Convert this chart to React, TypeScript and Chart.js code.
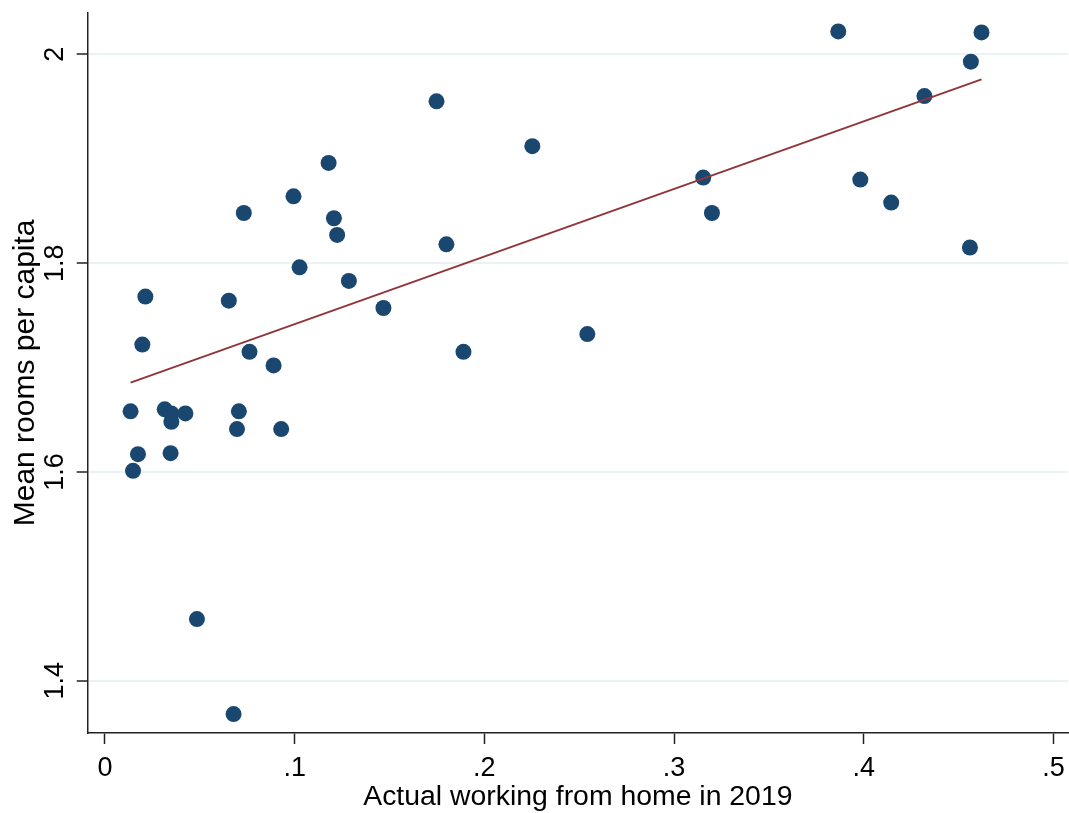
import React, { useEffect, useRef } from 'react';
import { Chart, registerables } from 'chart.js';

Chart.register(...registerables);

// Share actually working from home in 2019 (x) and mean rooms per capita (y)
const wfh2019 = [
  0.0135, 0.0148, 0.0174, 0.0197, 0.0213, 0.0315, 0.035, 0.0424, 0.035, 0.0346,
  0.0485, 0.0653, 0.0678, 0.0696, 0.0706, 0.0732, 0.0762, 0.0889, 0.0929, 0.0994,
  0.1026, 0.1179, 0.1207, 0.1224, 0.1286, 0.1468, 0.1748, 0.18, 0.189, 0.2253,
  0.2543, 0.3154, 0.32, 0.3866, 0.3982, 0.4145, 0.432, 0.4565, 0.456, 0.4621,
];
const roomsPerCapita = [
  1.658, 1.601, 1.617, 1.722, 1.768, 1.66, 1.656, 1.656, 1.648, 1.618,
  1.459, 1.764, 1.368, 1.641, 1.658, 1.848, 1.715, 1.702, 1.641, 1.864,
  1.796, 1.896, 1.843, 1.827, 1.783, 1.757, 1.955, 1.818, 1.715, 1.912,
  1.732, 1.882, 1.848, 2.022, 1.88, 1.858, 1.96, 1.993, 1.815, 2.021,
];

// Fitted line (as drawn in the figure): values at the smallest and largest x
const fitX = [0.0135, 0.4621];
const fitY = [1.6855, 1.976];

const xTickValues = [0, 0.1, 0.2, 0.3, 0.4, 0.5];
const xTickLabels = ['0', '.1', '.2', '.3', '.4', '.5'];
const yTickValues = [1.4, 1.6, 1.8, 2];
const yTickLabels = ['1.4', '1.6', '1.8', '2'];
const xAxisRange = [-0.0091, 0.5077];
const yAxisRange = [1.3499, 2.0399];
const xTitle = 'Actual working from home in 2019';
const yTitle = 'Mean rooms per capita';

const FONT = "'Liberation Sans', Arial, Helvetica, sans-serif";
const NAVY = '#1a476f';
const MAROON = '#90353b';
const AXIS = '#222222';
const GRID = '#eaf2f3';

function labelFor(values: number[], labels: string[], v: number) {
  const i = values.findIndex((t) => Math.abs(t - v) < 1e-9);
  return i >= 0 ? labels[i] : '';
}

export default function App() {
  const ref = useRef<HTMLCanvasElement>(null);

  useEffect(() => {
    if (!ref.current) return;
    const points = wfh2019.map((x, i) => ({ x, y: roomsPerCapita[i] }));
    const fitPoints = fitX.map((x, i) => ({ x, y: fitY[i] }));

    const chart = new Chart(ref.current, {
      type: 'scatter',
      data: {
        datasets: [
          {
            label: yTitle,
            data: points,
            backgroundColor: NAVY,
            borderColor: NAVY,
            pointRadius: 8,
            pointBorderWidth: 0,
            order: 1,
          },
          {
            label: 'Fitted values',
            type: 'line',
            data: fitPoints,
            borderColor: MAROON,
            borderWidth: 2,
            pointRadius: 0,
            fill: false,
            order: 0,
          } as any,
        ],
      },
      options: {
        responsive: false,
        animation: false,
        events: [],
        layout: { padding: { top: 12.7, right: 0, bottom: 0, left: 0 } },
        plugins: {
          legend: { display: false },
          tooltip: { enabled: false },
        },
        scales: {
          x: {
            type: 'linear',
            position: 'bottom',
            min: xAxisRange[0],
            max: xAxisRange[1],
            afterBuildTicks: (s: any) => {
              s.ticks = xTickValues.map((v) => ({ value: v }));
            },
            afterFit: (s: any) => {
              s.height = 80;
              s.paddingLeft = 0;
              s.paddingRight = 0;
            },
            ticks: {
              autoSkip: false,
              maxRotation: 0,
              minRotation: 0,
              padding: 8,
              color: '#000',
              font: { family: FONT, size: 27 },
              callback: (v: any) => labelFor(xTickValues, xTickLabels, Number(v)),
            },
            grid: {
              drawOnChartArea: false,
              drawTicks: true,
              tickLength: 11,
              tickColor: AXIS,
              tickWidth: 1.5,
            },
            border: { display: true, color: AXIS, width: 1.5 },
            title: {
              display: true,
              text: xTitle,
              color: '#000',
              font: { family: FONT, size: 28.4, lineHeight: 1.1 },
              padding: { top: 0, bottom: 0 },
            },
          },
          y: {
            type: 'linear',
            position: 'left',
            min: yAxisRange[0],
            max: yAxisRange[1],
            afterBuildTicks: (s: any) => {
              s.ticks = yTickValues.map((v) => ({ value: v }));
            },
            afterFit: (s: any) => {
              s.width = 87.7;
              s.paddingTop = 0;
              s.paddingBottom = 0;
            },
            ticks: {
              autoSkip: false,
              minRotation: 90,
              maxRotation: 90,
              crossAlign: 'center',
              padding: 2,
              color: '#000',
              font: { family: FONT, size: 27 },
              callback: (v: any) => labelFor(yTickValues, yTickLabels, Number(v)),
            },
            grid: {
              color: GRID,
              lineWidth: 2,
              drawTicks: true,
              tickLength: 11,
              tickColor: AXIS,
              tickWidth: 1.5,
            },
            border: { display: true, color: AXIS, width: 1.5 },
            title: {
              display: true,
              text: yTitle,
              color: '#000',
              font: { family: FONT, size: 30, lineHeight: 1.2 },
              padding: { top: 8, bottom: 0 },
            },
          },
        },
      },
    });

    return () => chart.destroy();
  }, []);

  return (
    <div
      style={{
        position: 'absolute',
        left: 0,
        top: 0,
        width: 1069,
        height: 813,
        overflow: 'hidden',
        background: '#fff',
      }}
    >
      <canvas ref={ref} width={1076} height={813} style={{ display: 'block' }} />
    </div>
  );
}
